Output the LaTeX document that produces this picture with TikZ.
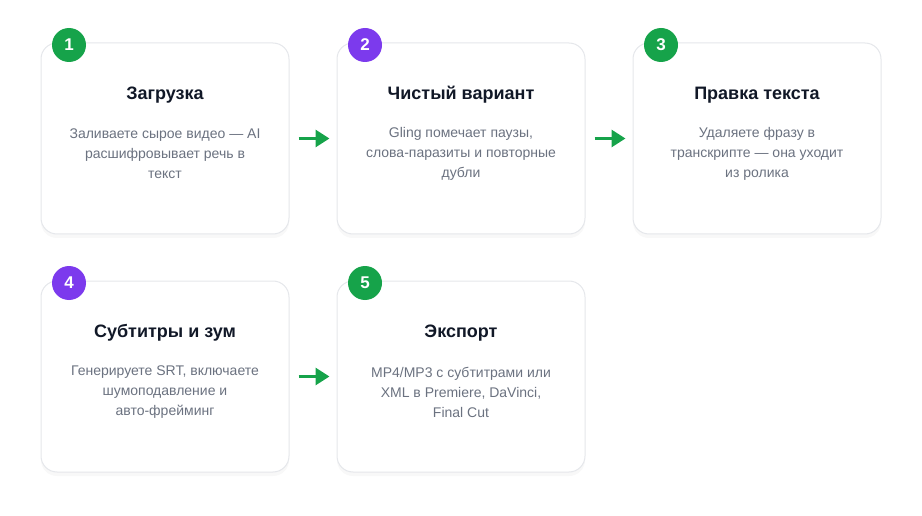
\documentclass[tikz,border=0pt]{standalone}
\usepackage{fontspec}
\setmainfont{Liberation Sans}
\usepackage{tikz}
\usetikzlibrary{arrows.meta, positioning, shadows}
\definecolor{stepgreen}{HTML}{16A34A}
\definecolor{steppurple}{HTML}{7C3AED}
\definecolor{titleink}{HTML}{111827}
\definecolor{descink}{HTML}{6B7280}
\definecolor{cardline}{HTML}{E5E7EB}

\begin{document}
\begin{tikzpicture}[x=1pt, y=-1pt, every node/.style={inner sep=0pt}]
\tikzstyle{card} = [rectangle, rounded corners=16pt, draw=cardline, line width=1pt, fill=white, minimum width=248pt, minimum height=191pt, drop shadow={opacity=0.06, shadow xshift=0pt, shadow yshift=-4pt}]
\tikzstyle{badge} = [circle, minimum size=34pt, text=white, font=\fontsize{17}{18}\selectfont\bfseries]
\tikzstyle{title} = [text=titleink, font=\fontsize{18}{20}\selectfont\bfseries]
\tikzstyle{desc} = [text=descink, align=center, font=\fontsize{14}{20}\selectfont]
\tikzstyle{flow} = [-{Triangle[length=14pt, width=17pt]}, line width=3pt, draw=stepgreen, shorten <=9pt, shorten >=7pt]

\useasboundingbox (0,0) rectangle (922,516);

% cards
\node[card] (c1) at (165,138.5) {};
\node[card] (c2) at (461,138.5) {};
\node[card] (c3) at (757,138.5) {};
\node[card] (c4) at (165,376.5) {};
\node[card] (c5) at (461,376.5) {};

% badges
\node[badge, fill=stepgreen] (b1) at (69,45) {1};
\node[badge, fill=steppurple] (b2) at (365,45) {2};
\node[badge, fill=stepgreen] (b3) at (661,45) {3};
\node[badge, fill=steppurple] (b4) at (69,283) {4};
\node[badge, fill=stepgreen] (b5) at (365,283) {5};

% texts
\node[title] (t1) at (165,95) {Загрузка};
\node[desc] (d1) at (165,154) {Заливаете сырое видео — AI\\расшифровывает речь в\\текст};
\node[title] (t2) at (461,95) {Чистый вариант};
\node[desc] (d2) at (461,154) {Gling помечает паузы,\\слова-паразиты и повторные\\дубли};
\node[title] (t3) at (757,95) {Правка текста};
\node[desc] (d3) at (757,154) {Удаляете фразу в\\транскрипте — она уходит\\из ролика};
\node[title] (t4) at (165,333) {Субтитры и зум};
\node[desc] (d4) at (165,392) {Генерируете SRT, включаете\\шумоподавление и\\авто-фрейминг};
\node[title] (t5) at (461,333) {Экспорт};
\node[desc] (d5) at (461,392) {MP4/MP3 с субтитрами или\\XML в Premiere, DaVinci,\\Final Cut};

% arrows
\draw[flow] (c1) -- (c2);
\draw[flow] (c2) -- (c3);
\draw[flow] (c4) -- (c5);

\end{tikzpicture}
\end{document}
